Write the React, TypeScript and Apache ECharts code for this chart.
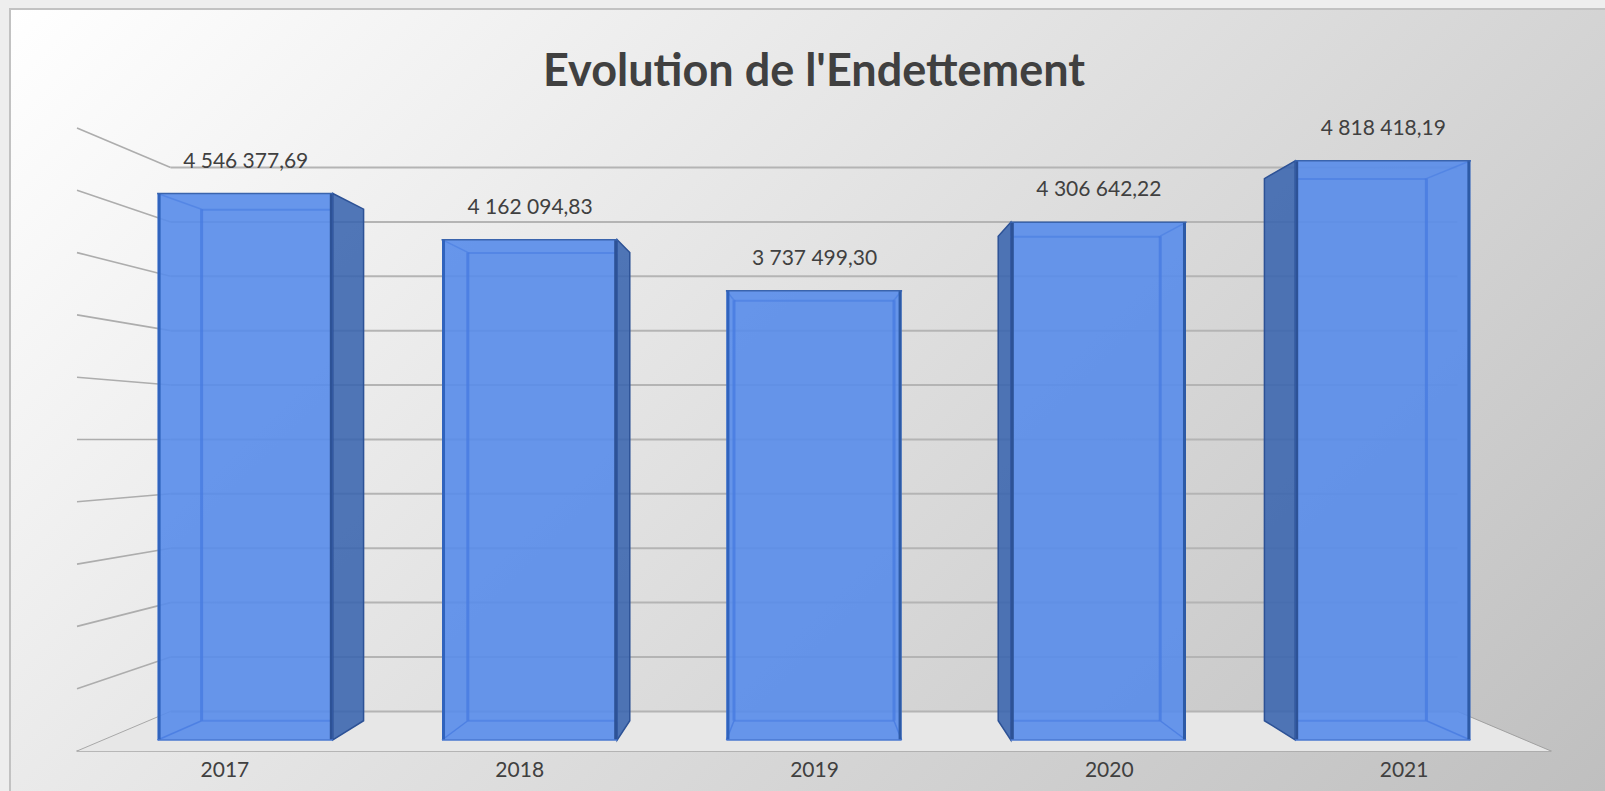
import React, { useEffect, useRef } from "react";
import * as echarts from "echarts";

const titleText = "Evolution de l'Endettement";
const categories = ["2017", "2018", "2019", "2020", "2021"];
const debtValues = [4546377.69, 4162094.83, 3737499.3, 4306642.22, 4818418.19];
const gridTicks = [0, 500000, 1000000, 1500000, 2000000, 2500000, 3000000, 3500000, 4000000, 4500000, 5000000];

const FONT = "Lato, 'Noto Sans', sans-serif";
const TEXT = "#404040";
const VP_Y = 439;
const VP_X = 814;
const K_BACK = 0.873;
const K_BAR_FRONT = 0.9647;
const K_BAR_BACK = 0.903;
const BAR_RATIO = 0.616;

const project = (p: number[], k: number) => [VP_X + (p[0] - VP_X) * k, VP_Y + (p[1] - VP_Y) * k];

const fmt = (v: number) => {
  const [a, b] = v.toFixed(2).split(".");
  return a.replace(/\B(?=(\d{3})+(?!\d))/g, " ") + "," + b;
};

const seg = (a: number[], b: number[], stroke: string, lineWidth: number) => ({
  type: "line",
  shape: { x1: a[0], y1: a[1], x2: b[0], y2: b[1] },
  style: { stroke, lineWidth, lineCap: "butt" },
  silent: true,
});

const poly = (points: number[][], fill: string, stroke?: string, lineWidth?: number) => ({
  type: "polygon",
  shape: { points },
  style: { fill, stroke: stroke || "none", lineWidth: lineWidth || 0 },
  silent: true,
});

function renderFloor(params: any, api: any) {
  const cs = params.coordSys;
  const y0 = api.coord([0, 0])[1];
  const fl = [cs.x, y0];
  const fr = [cs.x + cs.width, y0];
  const bl = project(fl, K_BACK);
  const br = project(fr, K_BACK);
  return {
    type: "group",
    children: [poly([fl, fr, br, bl], "#e7e7e7"), seg(fr, br, "#a0a0a0", 1), seg(fl, bl, "#a8a8a8", 1)],
  };
}

function renderGridLine(params: any, api: any) {
  const cs = params.coordSys;
  const y = api.coord([0, api.value(0)])[1];
  const fl = [cs.x, y];
  const fr = [cs.x + cs.width, y];
  const bl = project(fl, K_BACK);
  const br = project(fr, K_BACK);
  const children: any[] = [seg(bl, br, "#b4b4b4", 2)];
  if (api.value(0) > 0) children.push(seg(fl, bl, "#adadad", 1.6));
  return { type: "group", children };
}

function renderBar(params: any, api: any) {
  const idx = api.value(0);
  const val = api.value(1);
  const top = api.coord([idx, val]);
  const base = api.coord([idx, 0]);
  const half = (api.size([1, 0])[0] * BAR_RATIO) / 2;
  const c = (x: number, y: number, k: number) => project([x, y], k);
  const xL = top[0] - half;
  const xR = top[0] + half;
  const fTL = c(xL, top[1], K_BAR_FRONT);
  const fTR = c(xR, top[1], K_BAR_FRONT);
  const fBL = c(xL, base[1], K_BAR_FRONT);
  const fBR = c(xR, base[1], K_BAR_FRONT);
  const bTL = c(xL, top[1], K_BAR_BACK);
  const bTR = c(xR, top[1], K_BAR_BACK);
  const bBL = c(xL, base[1], K_BAR_BACK);
  const bBR = c(xR, base[1], K_BAR_BACK);

  const edgeLight = "rgba(70,122,224,0.75)";
  const edgeFaint = "rgba(70,122,224,0.55)";
  const edgeDark = "#2d5296";
  const children: any[] = [];

  const rightOut = bTR[0] > fTR[0];
  const leftOut = bTL[0] < fTL[0];

  if (rightOut) children.push(poly([fTR, bTR, bBR, fBR], "rgba(57,100,174,0.88)", edgeDark, 1.5));
  if (leftOut) children.push(poly([fTL, bTL, bBL, fBL], "rgba(57,100,174,0.88)", edgeDark, 1.5));

  children.push(poly([fTL, fTR, fBR, fBL], "rgba(88,140,234,0.9)"));

  const ix1 = leftOut ? fTL[0] : bTL[0] + 2;
  const ix2 = rightOut ? fTR[0] : bTR[0] - 2;
  children.push(seg([ix1, bTL[1] + 0.5], [ix2, bTR[1] + 0.5], edgeFaint, 2));
  children.push(seg([ix1, bBL[1]], [ix2, bBR[1]], edgeFaint, 2));
  if (!leftOut) {
    children.push(seg([ix1, bTL[1]], [ix1, bBL[1]], edgeLight, 3));
    children.push(seg(fTL, [ix1, bTL[1]], edgeFaint, 1.5));
    children.push(seg(fBL, [ix1, bBL[1]], edgeLight, 1.5));
  }
  if (!rightOut) {
    children.push(seg([ix2, bTR[1]], [ix2, bBR[1]], edgeLight, 3));
    children.push(seg(fTR, [ix2, bTR[1]], edgeFaint, 1.5));
    children.push(seg(fBR, [ix2, bBR[1]], edgeLight, 1.5));
  }

  children.push(seg([fTL[0] + 1.5, fTL[1]], [fBL[0] + 1.5, fBL[1]], leftOut ? edgeDark : "#3063bd", 3));
  children.push(seg([fTR[0] - 1.5, fTR[1]], [fBR[0] - 1.5, fBR[1]], rightOut ? edgeDark : "#2d5aa6", 3));
  children.push(seg([fTL[0] - 0.5, fTL[1]], [fTR[0] + 0.5, fTR[1]], "#3a64ad", 1.6));
  children.push(seg(fBL, fBR, "#4a78d0", 1.6));

  children.push({
    type: "text",
    x: (fTL[0] + fTR[0]) / 2 + 0.5,
    y: fTL[1] - 34.5,
    style: {
      text: fmt(val),
      textAlign: "center",
      textVerticalAlign: "middle",
      fontFamily: FONT,
      fontSize: 21,
      fill: TEXT,
    },
    silent: true,
  });
  return { type: "group", children };
}

export default function App() {
  const ref = useRef<HTMLDivElement>(null);
  useEffect(() => {
    document.body.style.margin = "0";
    const chart = echarts.init(ref.current!, undefined, { renderer: "svg" });
    chart.setOption({
      animation: false,
      backgroundColor: "#eeeeee",
      title: {
        text: titleText,
        left: 809,
        top: 41,
        textAlign: "center",
        textStyle: { fontFamily: FONT, fontWeight: 700, fontSize: 45, color: TEXT },
      },
      graphic: [
        {
          type: "rect",
          z: 0,
          silent: true,
          shape: { x: 10, y: 9, width: 1600, height: 790 },
          style: {
            fill: {
              type: "linear",
              global: true,
              x: 10,
              y: 9,
              x2: 1198.5,
              y2: 1197.5,
              colorStops: [
                { offset: 0, color: "#ffffff" },
                { offset: 1, color: "#bfbfbf" },
              ],
            },
            stroke: "#c2c2c2",
            lineWidth: 2,
          },
        },
      ],
      grid: { left: 77, top: 128, width: 1474, height: 623 },
      xAxis: {
        type: "category",
        data: categories,
        axisLine: { show: true, lineStyle: { color: "#a6a6a6", width: 1.5 } },
        axisTick: { show: false },
        axisLabel: { fontFamily: FONT, fontSize: 21, color: TEXT, margin: 7, padding: [0, 0, 0, 1] },
        splitLine: { show: false },
      },
      yAxis: {
        type: "value",
        min: 0,
        max: 5000000,
        interval: 500000,
        axisLine: { show: false },
        axisTick: { show: false },
        axisLabel: { show: false },
        splitLine: { show: false },
      },
      series: [
        { type: "custom", z: 1, silent: true, data: [[0]], renderItem: renderFloor, encode: { x: -1, y: -1 } },
        { type: "custom", z: 1, silent: true, data: gridTicks.map((t) => [t]), renderItem: renderGridLine, encode: { x: -1, y: -1 } },
        {
          type: "custom",
          z: 3,
          silent: true,
          data: debtValues.map((v, i) => [i, v]),
          renderItem: renderBar,
          encode: { x: 0, y: 1 },
        },
      ],
    });
    return () => chart.dispose();
  }, []);
  return <div ref={ref} style={{ width: 1605, height: 791 }} />;
}
